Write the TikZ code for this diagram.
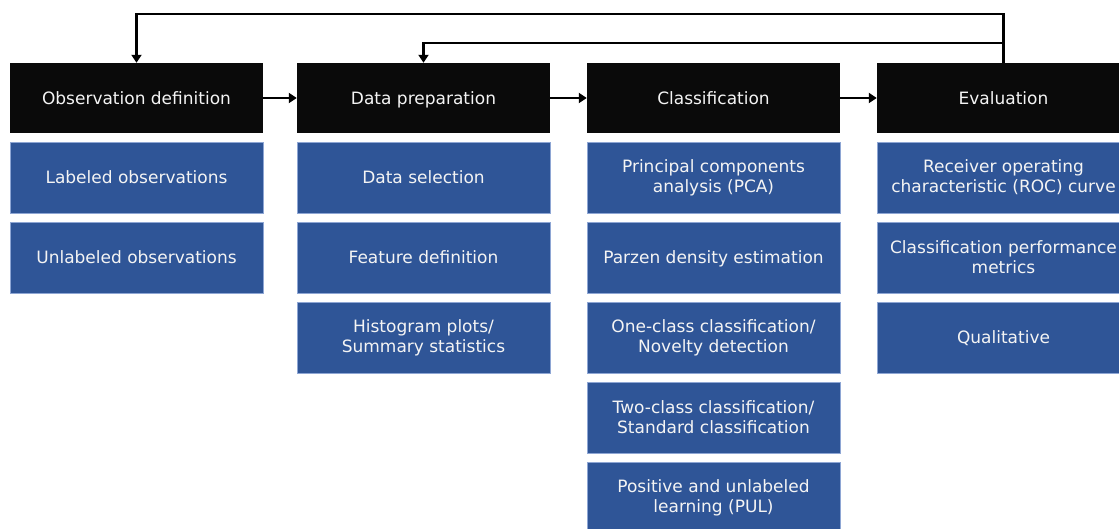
\documentclass[tikz,border=0pt]{standalone}
\usepackage{fontspec}
\setmainfont{DejaVu Sans}
\usetikzlibrary{arrows.meta}
\definecolor{hdr}{HTML}{0A0A0A}
\definecolor{bluebox}{HTML}{2F5597}
\definecolor{blueedge}{HTML}{8EA6D4}
\definecolor{txt}{HTML}{F4F4F4}
\tikzset{
  hbox/.style={draw=none, fill=hdr, minimum width=253pt, minimum height=70pt, inner sep=0pt,
    text=txt, font=\fontsize{17}{20}\selectfont, align=center, oneline},
  bbox/.style={draw=blueedge, line width=0.8pt, fill=bluebox, minimum width=253pt, minimum height=71pt,
    inner sep=0pt, text=txt, font=\fontsize{17}{20}\selectfont, align=center},
  oneline/.style={text height=12.4pt, text depth=0pt},
  fb/.style={line width=2.8pt, -{Triangle[length=8pt,width=10pt]}},
}
\begin{document}
\begin{tikzpicture}[x=1pt,y=-1pt]
\useasboundingbox (0,0) rectangle (1119,529);
\clip (0,0) rectangle (1119,529);
% headers
\node[hbox] (h1) at (136.5,98) {Observation definition};
\node[hbox] (h2) at (423.5,98) {Data preparation};
\node[hbox] (h3) at (713.5,98) {Classification};
\node[hbox] (h4) at (1003.5,98) {Evaluation};
% column 1
\node[bbox, oneline] (a1) at (136.5,177.5) {Labeled observations};
\node[bbox, oneline] (a2) at (136.5,257.5) {Unlabeled observations};
% column 2
\node[bbox, oneline] (b1) at (423.5,177.5) {Data selection};
\node[bbox, oneline] (b2) at (423.5,257.5) {Feature definition};
\node[bbox] (b3) at (423.5,337.5) {Histogram plots/\\Summary statistics};
% column 3
\node[bbox] (c1) at (713.5,177.5) {Principal components\\analysis (PCA)};
\node[bbox, oneline] (c2) at (713.5,257.5) {Parzen density estimation};
\node[bbox] (c3) at (713.5,337.5) {One-class classification/\\Novelty detection};
\node[bbox] (c4) at (713.5,417.5) {Two-class classification/\\Standard classification};
\node[bbox] (c5) at (713.5,497.5) {Positive and unlabeled\\learning (PUL)};
% column 4
\node[bbox] (d1) at (1003.5,177.5) {Receiver operating\\characteristic (ROC) curve};
\node[bbox] (d2) at (1003.5,257.5) {Classification performance\\metrics};
\node[bbox, oneline] (d3) at (1003.5,337.5) {Qualitative};
% forward arrows
\draw[fb] (h1.east) -- (h2.west);
\draw[fb] (h2.east) -- (h3.west);
\draw[fb] (h3.east) -- (h4.west);
% feedback arrows
\coordinate (t1) at (1003.5,14);
\coordinate (t2) at (1003.5,43);
\draw[fb] (h4.north) -- (t1) -| (h1.north);
\draw[fb] (t2) -| (h2.north);
\end{tikzpicture}
\end{document}
